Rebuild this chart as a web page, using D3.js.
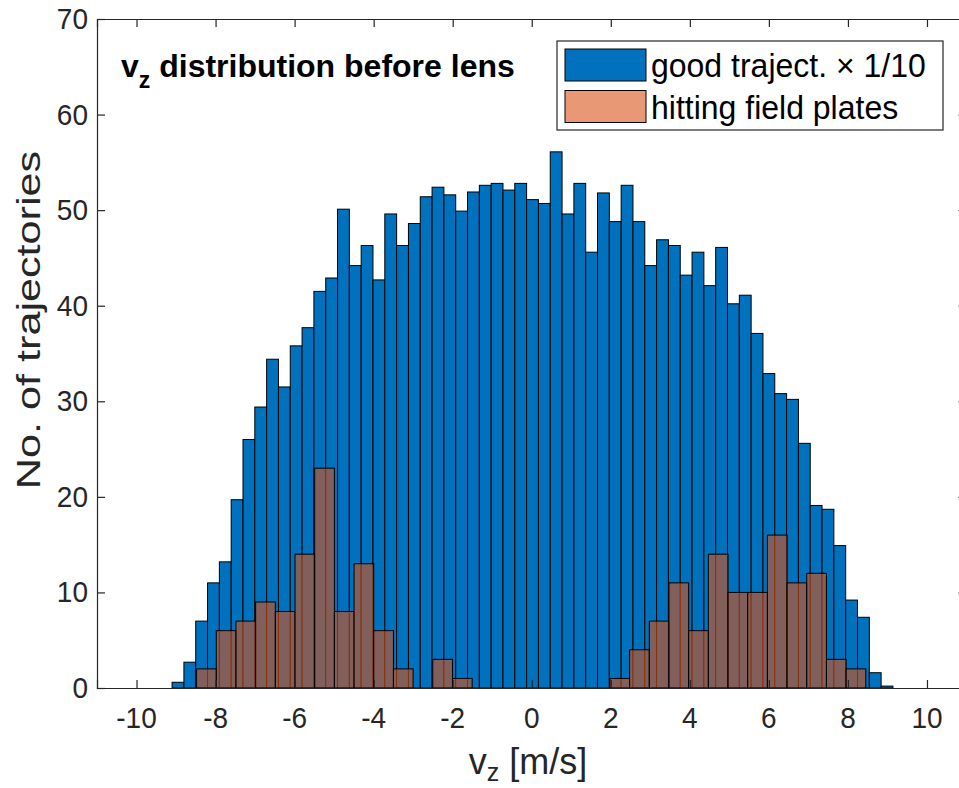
<!DOCTYPE html>
<html>
<head>
<meta charset="utf-8">
<script src="https://cdn.jsdelivr.net/npm/d3@7"></script>
<style>
  body { margin: 0; background: #fff; }
  svg { display: block; font-family: "Liberation Sans", Arial, Helvetica, sans-serif; }
</style>
</head>
<body>
<svg width="959" height="788"></svg>
<script>
// good trajectories (counts / 10), bins of width ~0.3 m/s
const blueStart = -9.10
const blueWidth = 0.299
const blueCounts = [
  0.6, 2.7, 7.0, 11.0, 13.2, 19.7, 26.0, 29.4, 34.4, 31.5,
  35.8, 37.7, 41.5, 42.9, 50.1, 44.2, 46.3, 42.7, 49.6, 46.3,
  48.6, 51.4, 52.4, 51.6, 49.9, 51.9, 52.6, 52.8, 52.1, 52.8,
  51.1, 50.7, 56.1, 49.6, 52.8, 45.6, 51.8, 48.8, 52.6, 48.8,
  44.2, 46.9, 46.3, 43.2, 45.6, 42.1, 46.1, 40.2, 41.1, 37.1,
  32.9, 30.8, 30.2, 25.6, 19.1, 18.7, 14.9, 9.2, 7.4, 1.6,
  0.2
]

// trajectories hitting the field plates, bins of width ~0.5 m/s
const orangeStart = -8.48
const orangeWidth = 0.498
const orangeCounts = [
  2, 6, 7, 9, 8, 14, 23, 8, 13, 6,
  2, 0, 3, 1, 0, 0, 0, 0, 0, 0,
  0, 1, 4, 7, 11, 6, 14, 10, 10, 16,
  11, 12, 3, 2
]

const xTicks = [-10, -8, -6, -4, -2, 0, 2, 4, 6, 8, 10]
const yTicks = [0, 10, 20, 30, 40, 50, 60, 70]
const legendLabels = ['good traject. \u00d7 1/10', 'hitting field plates']

const blueColor = '#0072bd'
const orangeColor = '#d95319'
const axisColor = '#262626'

function toBins(start, width, counts) {
  return counts.map((c, i) => ({ x0: start + i * width, x1: start + (i + 1) * width, n: c }))
}

// text stretched vertically a bit, like the exported figure
function stretchedText(parent, x, y, sy, size) {
  return parent.append('text')
    .attr('transform', `translate(${x},${y}) scale(1,${sy})`)
    .style('font-size', size + 'px')
}

function main() {
  const svg = d3.select('svg')
  const left = 97, top = 19, right = 966.5, bottom = 688

  const x = d3.scaleLinear().domain([-11, 11]).range([left, right])
  const y = d3.scaleLinear().domain([0, 70]).range([bottom, top])

  const plot = svg.append('g')

  // bars
  plot.append('g').selectAll('rect')
    .data(toBins(blueStart, blueWidth, blueCounts).filter(d => d.n > 0))
    .join('rect')
    .attr('x', d => x(d.x0))
    .attr('width', d => x(d.x1) - x(d.x0))
    .attr('y', d => y(d.n))
    .attr('height', d => y(0) - y(d.n))
    .attr('fill', blueColor)
    .attr('stroke', '#000')
    .attr('stroke-width', 1)

  plot.append('g').selectAll('rect')
    .data(toBins(orangeStart, orangeWidth, orangeCounts).filter(d => d.n > 0))
    .join('rect')
    .attr('x', d => x(d.x0))
    .attr('width', d => x(d.x1) - x(d.x0))
    .attr('y', d => y(d.n))
    .attr('height', d => y(0) - y(d.n))
    .attr('fill', orangeColor)
    .attr('fill-opacity', 0.6)
    .attr('stroke', '#000')
    .attr('stroke-width', 1)

  // axes (ticks inside, box on)
  const tickLen = 8
  const axBottom = svg.append('g').attr('transform', `translate(0,${bottom})`)
    .call(d3.axisBottom(x).tickValues(xTicks).tickSize(-tickLen).tickFormat(''))
  const axTop = svg.append('g').attr('transform', `translate(0,${top})`)
    .call(d3.axisTop(x).tickValues(xTicks).tickSize(-tickLen).tickFormat(''))
  const axLeft = svg.append('g').attr('transform', `translate(${left},0)`)
    .call(d3.axisLeft(y).tickValues(yTicks).tickSize(-tickLen).tickFormat(''))
  const axRight = svg.append('g').attr('transform', `translate(${right},0)`)
    .call(d3.axisRight(y).tickValues(yTicks).tickSize(-tickLen).tickFormat(''))

  ;[axBottom, axTop, axLeft, axRight].forEach(a => {
    a.select('.domain').attr('stroke', axisColor).attr('stroke-width', 1.2)
    a.selectAll('.tick line').attr('stroke', axisColor).attr('stroke-width', 1.2)
  })

  // tick labels
  const labels = svg.append('g').attr('fill', axisColor)
  xTicks.forEach(t => {
    stretchedText(labels, x(t), 728, 1.05, 28)
      .attr('text-anchor', 'middle')
      .text(t < 0 ? '-' + Math.abs(t) : t)
  })
  yTicks.forEach(t => {
    stretchedText(labels, 88, y(t) + 10, 1.05, 28)
      .attr('text-anchor', 'end')
      .text(t)
  })

  // title
  const title = svg.append('text')
    .attr('x', 121).attr('y', 77)
    .style('font-size', '32px').style('font-weight', 'bold').attr('fill', '#000')
  title.append('tspan').text('v')
  title.append('tspan').attr('dy', 11).style('font-size', '23px').text('z')
  title.append('tspan').attr('dy', -11).text(' distribution before lens')

  // axis labels
  const xl = svg.append('text')
    .attr('x', 528).attr('y', 774)
    .attr('text-anchor', 'middle').attr('fill', axisColor)
    .style('font-size', '36px')
  xl.append('tspan').text('v')
  xl.append('tspan').attr('dy', 7).style('font-size', '25px').text('z')
  xl.append('tspan').attr('dy', -7).text(' [m/s]')

  svg.append('text')
    .attr('transform', 'translate(40,320) rotate(-90) scale(1.27,1)')
    .attr('text-anchor', 'middle')
    .style('font-size', '34px').attr('fill', axisColor)
    .text('No. of trajectories')

  // legend
  const lg = svg.append('g')
  lg.append('rect')
    .attr('x', 557).attr('y', 41).attr('width', 386).attr('height', 89)
    .attr('fill', '#fff').attr('stroke', axisColor).attr('stroke-width', 1.2)
  const items = lg.selectAll('g.item')
    .data([{ fill: blueColor, op: 1 }, { fill: orangeColor, op: 0.6 }])
    .join('g').attr('class', 'item')
    .attr('transform', (d, i) => `translate(0,${i * 41.5})`)
  items.append('rect')
    .attr('x', 565).attr('y', 49).attr('width', 81).attr('height', 32)
    .attr('fill', d => d.fill).attr('fill-opacity', d => d.op)
    .attr('stroke', '#000').attr('stroke-width', 1)
  items.append('text')
    .attr('transform', 'translate(651,77) scale(1,1.05)')
    .style('font-size', '32px').attr('fill', '#000')
    .text((d, i) => legendLabels[i])
}

main()
</script>
</body>
</html>
